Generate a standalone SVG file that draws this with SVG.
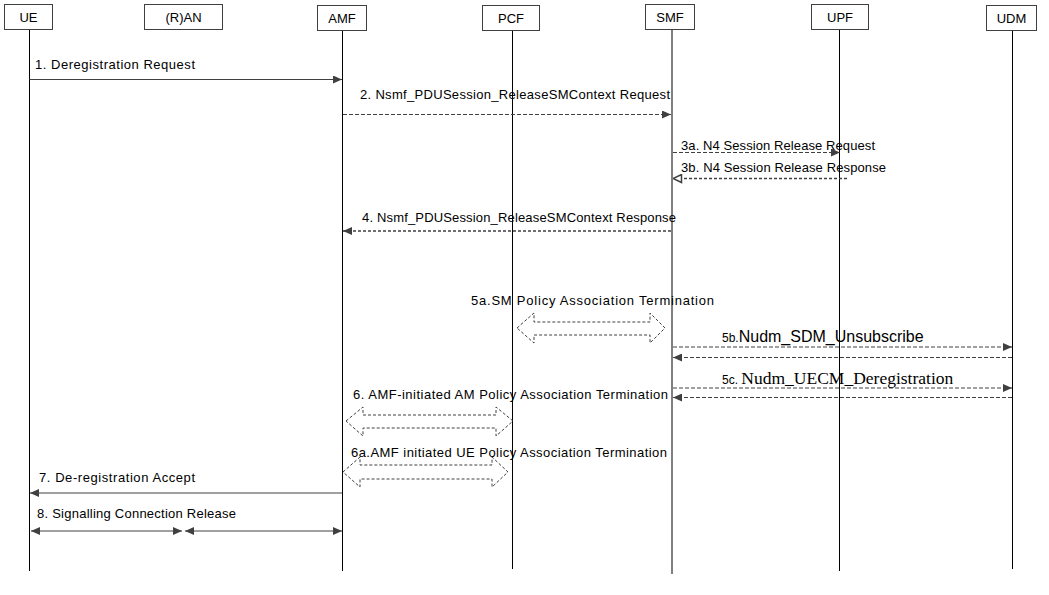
<svg xmlns="http://www.w3.org/2000/svg" width="1049" height="595" viewBox="0 0 1049 595">
<style>
text{font-family:"Liberation Sans",Arial,sans-serif;font-size:13px;fill:#000}
.box{fill:#fff;stroke:#404040;stroke-width:1}
.life{stroke:#000;stroke-width:1}
.msg{stroke:#404040;stroke-width:1;fill:none}
.dash{stroke-dasharray:4,2}
.dash2{stroke-dasharray:3,2;stroke-width:1.5}
.blk{fill:none;stroke:#404040;stroke-width:1;stroke-dasharray:3,2}
.hd{text-anchor:middle}
</style>
<defs>
<marker id="ah" viewBox="0 0 9 8" refX="9" refY="4" markerWidth="9" markerHeight="8" markerUnits="userSpaceOnUse" orient="auto-start-reverse"><path d="M0,0 L9,4 L0,8 z" fill="#404040"/></marker>
<marker id="ao" viewBox="0 0 10 10" refX="9.5" refY="5" markerWidth="10" markerHeight="10" markerUnits="userSpaceOnUse" orient="auto"><path d="M1,1 L9.5,5 L1,9 z" fill="#fff" stroke="#404040" stroke-width="1.5"/></marker>
</defs>
<rect width="1049" height="595" fill="#fff"/>

<g id="UE"><rect class="box" x="4.5" y="4.5" width="48" height="25"/><text class="hd" x="28.5" y="22">UE</text><line class="life" x1="29.5" y1="30" x2="29.5" y2="571"/></g>
<g id="RAN"><rect class="box" x="144.5" y="4.5" width="78" height="25"/><text class="hd" x="183.5" y="22">(R)AN</text></g>
<g id="AMF"><rect class="box" x="317.5" y="5.5" width="49" height="25"/><text class="hd" x="342" y="23">AMF</text><line class="life" x1="342.5" y1="31" x2="342.5" y2="571"/></g>
<g id="PCF"><rect class="box" x="482.5" y="5.5" width="57" height="25"/><text class="hd" x="511" y="23">PCF</text><line class="life" x1="512.5" y1="31" x2="512.5" y2="569"/></g>
<g id="SMF"><rect class="box" x="645.5" y="4.5" width="49" height="25"/><text class="hd" x="670" y="22">SMF</text><line class="life" x1="672" y1="30" x2="672" y2="574" stroke-width="1.5" stroke="#000"/></g>
<g id="UPF"><rect class="box" x="811.5" y="4.5" width="57" height="25"/><text class="hd" x="840" y="22">UPF</text><line class="life" x1="839.5" y1="30" x2="839.5" y2="571"/></g>
<g id="UDM"><rect class="box" x="986.5" y="5.5" width="50" height="25"/><text class="hd" x="1011.5" y="23">UDM</text><line class="life" x1="1012.5" y1="31" x2="1012.5" y2="569"/></g>

<g id="connectors">
<line class="msg" x1="29.5" y1="79.5" x2="342" y2="79.5" marker-end="url(#ah)"/>
<line class="msg dash" x1="343" y1="114.5" x2="671" y2="114.5" marker-end="url(#ah)"/>
<line class="msg dash" x1="673" y1="152.5" x2="840" y2="152.5" marker-end="url(#ah)"/>
<line class="msg dash2" x1="847" y1="178.5" x2="673" y2="178.5" marker-end="url(#ao)"/>
<line class="msg dash2" x1="671" y1="231" x2="343" y2="231" marker-end="url(#ah)"/>
<polygon class="blk" points="517,328 534,313 534,322 650,322 650,313 665,328 650,343 650,335 534,335 534,343"/>
<line class="msg dash" x1="673" y1="347" x2="1012" y2="347" stroke-width="1.3" marker-end="url(#ah)"/>
<line class="msg dash" x1="1012" y1="357.5" x2="673" y2="357.5" marker-end="url(#ah)"/>
<line class="msg dash" x1="673" y1="388" x2="1012" y2="388" stroke-width="1.3" marker-end="url(#ah)"/>
<line class="msg dash" x1="1012" y1="397.5" x2="673" y2="397.5" marker-end="url(#ah)"/>
<polygon class="blk" points="346,421 363,407 363,415 496,415 496,407 513,421 496,436 496,428 363,428 363,436"/>
<polygon class="blk" points="343,472 360,457 360,465 492,465 492,457 508,472 492,487 492,479 360,479 360,487"/>
<line class="msg" x1="342" y1="493" x2="30" y2="493" marker-end="url(#ah)"/>
<line class="msg" x1="31" y1="531" x2="182" y2="531" marker-start="url(#ah)" marker-end="url(#ah)"/>
<line class="msg" x1="185" y1="531" x2="342" y2="531" marker-start="url(#ah)" marker-end="url(#ah)"/>
</g>

<g id="labels">
<text x="35" y="69" textLength="160">1. Deregistration Request</text>
<text x="360" y="99" textLength="310">2. Nsmf_PDUSession_ReleaseSMContext  Request</text>
<text x="681" y="150" textLength="194">3a. N4 Session Release Request</text>
<text x="681" y="172" textLength="205">3b. N4 Session Release Response</text>
<text x="362" y="222" textLength="314">4. Nsmf_PDUSession_ReleaseSMContext Response</text>
<text x="471" y="304.5" textLength="243">5a.SM Policy Association Termination</text>
<text x="722" y="342"><tspan font-size="12">5b.</tspan><tspan font-size="16">Nudm_SDM_Unsubscribe</tspan></text>
<text x="722" y="384"><tspan font-size="12">5c. </tspan><tspan font-family="'Liberation Serif','Times New Roman',serif" font-size="17.5">Nudm_UECM_Deregistration</tspan></text>
<text x="353" y="398.5" textLength="315">6. AMF-initiated AM Policy Association Termination</text>
<text x="351" y="457" textLength="316">6a.AMF initiated UE Policy Association Termination</text>
<text x="39" y="482" textLength="156">7. De-registration Accept</text>
<text x="37" y="518" textLength="199">8. Signalling Connection Release</text>
</g>
</svg>
